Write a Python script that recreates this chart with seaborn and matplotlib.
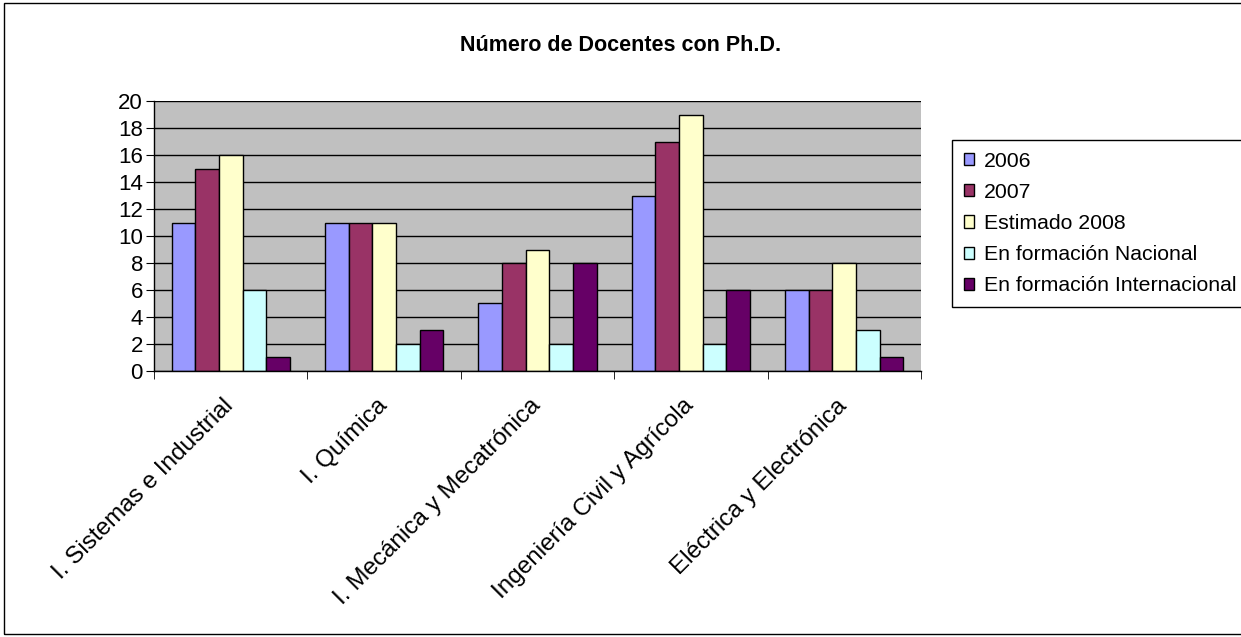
import pandas as pd
import seaborn as sns
import matplotlib.pyplot as plt
import matplotlib.transforms as mtransforms
from matplotlib.patches import Rectangle

# Chart data
carreras = ['I. Sistemas e Industrial', 'I. Química', 'I. Mecánica y Mecatrónica',
            'Ingeniería Civil y Agrícola', 'Eléctrica y Electrónica']
series = ['2006', '2007', 'Estimado 2008', 'En formación Nacional', 'En formación Internacional']
v2006 = [11, 11, 5, 13, 6]
v2007 = [15, 11, 8, 17, 6]
v2008 = [16, 11, 9, 19, 8]
nacional = [6, 2, 2, 2, 3]
internacional = [1, 3, 8, 6, 1]
colores = ['#9999FF', '#993366', '#FFFFCC', '#CCFFFF', '#660066']

# Long format for seaborn
df = pd.DataFrame({'Carrera': carreras, series[0]: v2006, series[1]: v2007,
                   series[2]: v2008, series[3]: nacional, series[4]: internacional})
df = df.melt(id_vars='Carrera', var_name='Serie', value_name='Docentes')

sns.set_style('white')
plt.rcParams['font.family'] = ['Liberation Sans', 'DejaVu Sans']
plt.rcParams['text.color'] = 'black'
plt.rcParams['xtick.color'] = 'black'
plt.rcParams['ytick.color'] = 'black'

fig = plt.figure(figsize=(12.41, 6.37), dpi=100)
ax = fig.add_axes([0.1241, 0.4176, 0.618, 0.4238])

sns.barplot(data=df, x='Carrera', y='Docentes', hue='Serie', order=carreras,
            hue_order=series, palette=colores, width=0.77, gap=0,
            edgecolor='black', linewidth=1, saturation=1, ax=ax, legend=True)

ax.set_facecolor('#C0C0C0')
ax.set_ylim(0, 20)
ax.set_xlim(-0.5, len(carreras) - 0.5)
ax.set_yticks(range(0, 21, 2))
ax.yaxis.grid(True, color='black', linewidth=1)
ax.set_axisbelow(True)
for s in ['top', 'right']:
    ax.spines[s].set_visible(False)
for s in ['left', 'bottom']:
    ax.spines[s].set_color('black')
    ax.spines[s].set_linewidth(1)

# ticks between categories, labels at centres
ax.set_xticks([i - 0.5 for i in range(len(carreras) + 1)], minor=True)
ax.tick_params(axis='x', which='minor', direction='out', length=6, color='black', bottom=True)
ax.tick_params(axis='x', which='major', length=0, pad=17, labelcolor='black')
ax.tick_params(axis='y', direction='out', length=6, color='black', left=True,
               labelsize=16, pad=2, labelcolor='black')
ax.set_xticks(range(len(carreras)))
ax.set_xticklabels(carreras, rotation=45, ha='right', va='top',
                   rotation_mode='anchor', fontsize=17.5)
shift = mtransforms.ScaledTranslation(-8 / 100, 0, fig.dpi_scale_trans)
for lbl in ax.get_xticklabels():
    lbl.set_transform(lbl.get_transform() + shift)
ax.set_xlabel('')
ax.set_ylabel('')

fig.text(0.5, 0.928, 'Número de Docentes con Ph.D.', ha='center', va='center',
         fontsize=15.5, fontweight='bold', color='black')

ax.legend(loc='upper left', bbox_to_anchor=(0.767, 0.780), bbox_transform=fig.transFigure,
          frameon=True, fancybox=False, edgecolor='black', fontsize=15.3,
          handlelength=0.5, handleheight=0.5, handletextpad=0.45, labelspacing=0.57,
          borderpad=0.55, borderaxespad=0, framealpha=1, labelcolor='black')
ax.get_legend().get_frame().set_linewidth(1)

# outer chart border
fig.patches.append(Rectangle((0.003, 0.004), 1.2, 0.992, transform=fig.transFigure,
                             fill=False, edgecolor='black', linewidth=1))

fig.savefig('out.png', dpi=100)
